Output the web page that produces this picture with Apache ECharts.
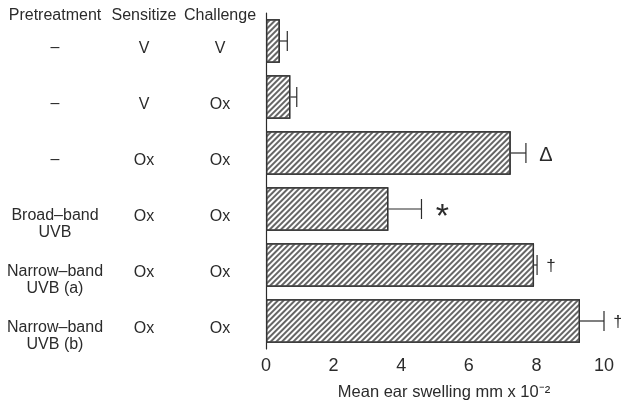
<!DOCTYPE html>
<html>
<head>
<meta charset="utf-8">
<script src="https://cdn.jsdelivr.net/npm/echarts@6/dist/echarts.min.js"></script>
<style>
  html, body { margin: 0; padding: 0; background: #fff; }
  #chart { width: 621px; height: 406px; }
</style>
</head>
<body>
<div id="chart"></div>
<script>
// table columns on the left (one row per bar, top to bottom)
var pretreatment = ['–', '–', '–', 'Broad–band\nUVB', 'Narrow–band\nUVB (a)', 'Narrow–band\nUVB (b)'];
var sensitize = ['V', 'V', 'Ox', 'Ox', 'Ox', 'Ox'];
var challenge = ['V', 'Ox', 'Ox', 'Ox', 'Ox', 'Ox'];

// mean ear swelling (mm x 10^-2) and its error
var swelling = [0.41, 0.72, 7.24, 3.62, 7.93, 9.29];
var swellingErr = [0.22, 0.19, 0.45, 0.98, 0.09, 0.71];
// significance marks
var marks = ['', '', 'Δ', '*', '†', '†'];

var xTicks = [0, 2, 4, 6, 8, 10];

var rows = swelling.map(function (v, i) { return 'r' + i; });
var line1 = pretreatment.map(function (s) { return s.split('\n')[0]; });
var line2 = pretreatment.map(function (s) { return s.split('\n')[1] || ''; });

var FONT = '"Liberation Sans", Arial, sans-serif';
var INK = '#2b2b2b';

var dom = document.getElementById('chart');
var myChart = echarts.init(dom);

// column axis: no line, centred labels; lineHeight sets how far below the row centre the text sits
function colAxis(labels, offset, lineH, name) {
    return {
        type: 'category',
        data: labels,
        inverse: true,
        position: 'left',
        offset: offset,
        gridIndex: 0,
        axisLine: { show: false },
        axisTick: { show: false },
        axisLabel: {
            interval: 0,
            margin: 0,
            align: 'center',
            verticalAlign: 'top',
            lineHeight: lineH,
            fontFamily: FONT,
            fontSize: 16,
            color: INK
        },
        name: name || '',
        nameLocation: 'start',
        nameGap: -3,
        nameTextStyle: {
            align: 'center',
            verticalAlign: 'middle',
            fontFamily: FONT,
            fontSize: 16,
            color: INK
        }
    };
}

var markShift = { 'Δ': [20, 2, 20], '*': [21, 9, 34], '†': [14, 1, 17] };

var option = {
    backgroundColor: '#fff',
    animation: false,
    grid: { left: 266, right: 17, top: 13, bottom: 53 },
    xAxis: {
        type: 'value',
        min: 0,
        max: 10,
        interval: 1,
        axisLine: { lineStyle: { color: INK, width: 1.2 } },
        axisTick: { inside: true, length: 4, lineStyle: { color: INK } },
        splitLine: { show: false },
        axisLabel: {
            margin: 8,
            fontFamily: FONT,
            fontSize: 18,
            color: INK,
            formatter: function (v) {
                return xTicks.indexOf(v) >= 0 ? String(v) : '';
            }
        },
        name: 'Mean ear swelling mm x 10⁻²',
        nameLocation: 'middle',
        nameGap: 35,
        nameTextStyle: { fontFamily: FONT, fontSize: 16.5, color: INK, padding: [0, 0, 0, 18] }
    },
    yAxis: [
        {
            type: 'category',
            data: rows,
            inverse: true,
            axisLine: { lineStyle: { color: INK, width: 1.2 } },
            axisTick: { length: 3, lineStyle: { color: INK } },
            axisLabel: { show: false }
        },
        colAxis(challenge, 46, 15, 'Challenge'),
        colAxis(sensitize, 122, 15, 'Sensitize'),
        colAxis(line1, 211, 14, 'Pretreatment'),
        colAxis(line2, 211, 48)
    ],
    series: [
        {
            type: 'bar',
            data: swelling,
            barCategoryGap: '22%',
            itemStyle: {
                color: '#ffffff',
                borderColor: '#333',
                borderWidth: 1.3,
                decal: {
                    symbol: 'rect',
                    symbolSize: 1,
                    color: '#666',
                    dashArrayX: [1, 0],
                    dashArrayY: [1.2, 2],
                    rotation: -Math.PI / 4
                }
            }
        },
        {
            type: 'custom',
            clip: false,
            data: swelling.map(function (v, i) { return [v, i, swellingErr[i]]; }),
            renderItem: function (params, api) {
                var v = api.value(0);
                var idx = api.value(1);
                var err = api.value(2);
                var start = api.coord([v, idx]);
                var end = api.coord([v + err, idx]);
                var half = 10;
                var children = [
                    {
                        type: 'line',
                        shape: { x1: start[0], y1: start[1], x2: end[0], y2: end[1] },
                        style: { stroke: INK, lineWidth: 1.2 }
                    },
                    {
                        type: 'line',
                        shape: { x1: end[0], y1: end[1] - half, x2: end[0], y2: end[1] + half },
                        style: { stroke: INK, lineWidth: 1.2 }
                    }
                ];
                var m = marks[idx];
                if (m) {
                    var s = markShift[m];
                    children.push({
                        type: 'text',
                        style: {
                            x: end[0] + s[0],
                            y: end[1] + s[1],
                            text: m,
                            align: 'center',
                            verticalAlign: 'middle',
                            fontFamily: FONT,
                            fontSize: s[2],
                            fill: INK
                        }
                    });
                }
                return { type: 'group', children: children };
            }
        }
    ]
};

myChart.setOption(option);
</script>
</body>
</html>
